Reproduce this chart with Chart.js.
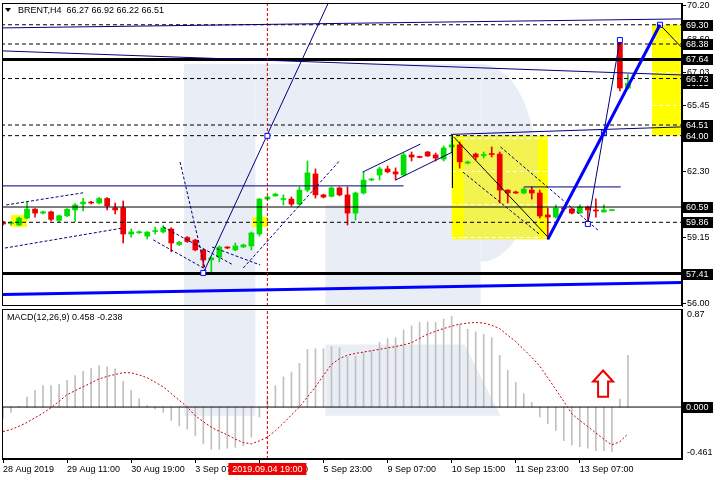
<!DOCTYPE html>
<html>
<head>
<meta charset="utf-8">
<script src="https://cdn.jsdelivr.net/npm/chart.js@4.4.1/dist/chart.umd.min.js"></script>
<style>
    html, body { margin: 0; padding: 0; background: #fff; }
    #wrap { position: relative; width: 720px; height: 480px; overflow: hidden; background: #fff; }
    #priceChart { position: absolute; left: 0; top: 0; }
    #macdChart { position: absolute; left: 0; top: 308px; }
</style>
</head>
<body>
<div id="wrap">
    <canvas id="priceChart" width="720" height="308"></canvas>
    <canvas id="macdChart" width="720" height="172"></canvas>
</div>
<script>
// ============================================
// BRENT H4 - candles + MACD(12,26,9)
// ============================================

// --- candles (bar index 0 = 28 Aug 2019 03:00) ---
const opens  = [59.88,59.80,59.73,60.06,60.49,60.30,60.36,59.95,60.17,60.45,60.74,60.82,60.78,61.00,60.55,60.55,59.30,59.36,59.20,59.42,59.40,59.54,58.80,59.13,59.01,58.54,58.06,58.20,58.68,58.54,58.68,58.73,59.30,60.97,61.12,60.95,60.97,60.73,61.40,62.17,61.17,61.10,61.50,61.17,60.30,61.26,61.88,62.12,62.41,62.27,62.12,63.08,63.00,63.22,63.08,62.88,63.46,63.56,62.69,63.12,63.05,63.14,63.12,61.40,61.31,61.26,61.40,61.26,60.21,60.11,60.54,60.50,60.30,60.59,60.45,60.35,60.42,68.43,66.27];
const highs  = [59.92,59.90,60.11,60.83,60.52,60.40,60.40,60.20,60.52,60.75,61.00,60.86,61.04,61.04,60.78,60.88,59.54,59.45,59.42,59.63,59.70,59.60,58.95,59.18,59.05,58.58,58.20,58.73,58.70,58.87,58.82,59.40,61.00,61.10,61.25,61.17,61.07,61.55,62.79,62.41,61.20,61.55,61.55,61.55,61.31,62.27,61.96,62.50,62.55,62.46,63.17,63.22,63.02,63.25,63.17,63.51,63.96,63.70,62.79,63.17,63.22,63.46,63.22,61.42,61.35,61.50,61.55,61.40,60.54,60.69,60.62,60.55,60.69,60.64,60.98,60.69,60.45,68.62,66.92];
const lows   = [59.72,59.72,59.70,60.02,60.11,60.26,59.93,59.88,60.13,59.90,60.40,60.74,60.74,60.45,60.26,58.87,59.15,59.33,59.06,59.30,59.35,58.45,58.75,58.90,58.50,57.68,57.49,57.97,58.60,58.50,58.65,58.54,59.20,60.93,61.10,60.69,60.64,60.64,61.31,61.02,61.02,61.07,61.12,59.73,59.97,61.21,61.85,61.88,62.22,61.88,62.07,62.79,62.94,63.00,62.79,62.79,63.17,62.45,62.65,62.84,62.93,62.98,60.78,60.78,61.24,61.22,60.97,60.06,59.05,60.06,60.40,60.26,60.30,59.73,60.11,60.35,60.40,66.14,66.22];
const closes = [59.78,59.82,60.06,60.49,60.30,60.36,60.00,60.17,60.48,60.69,60.83,60.78,61.00,60.64,60.45,59.30,59.40,59.40,59.39,59.46,59.59,58.87,58.90,58.94,58.54,58.06,58.16,58.68,58.63,58.73,58.78,59.35,60.97,61.07,61.21,60.98,60.73,61.40,62.22,61.17,61.07,61.50,61.17,60.30,61.26,61.88,61.93,62.41,62.27,62.17,63.08,62.98,62.96,63.03,62.93,63.41,63.56,62.75,62.74,62.98,63.10,63.10,61.40,61.26,61.26,61.45,61.26,60.16,60.11,60.54,60.50,60.30,60.59,60.45,60.40,60.45,60.42,66.28,66.51];

// --- MACD histogram and signal line ---
const macdHist = [-0.098,-0.048,0.005,0.089,0.149,0.19,0.19,0.2,0.238,0.28,0.318,0.342,0.369,0.357,0.339,0.229,0.149,0.074,0.012,-0.018,-0.048,-0.119,-0.167,-0.196,-0.256,-0.327,-0.375,-0.375,-0.366,-0.357,-0.345,-0.268,-0.089,0.08,0.19,0.268,0.31,0.387,0.512,0.518,0.518,0.536,0.527,0.446,0.452,0.482,0.497,0.577,0.607,0.616,0.685,0.72,0.75,0.756,0.75,0.78,0.804,0.735,0.69,0.667,0.646,0.616,0.458,0.327,0.22,0.119,0.042,-0.089,-0.149,-0.208,-0.298,-0.339,-0.351,-0.366,-0.387,-0.387,-0.396,0.071,0.458];
const macdSignal = [-0.217,-0.2,-0.17,-0.137,-0.095,-0.054,-0.005,0.05,0.11,0.145,0.179,0.215,0.25,0.272,0.289,0.305,0.304,0.285,0.259,0.22,0.179,0.12,0.06,0.0,-0.077,-0.13,-0.179,-0.215,-0.247,-0.285,-0.315,-0.327,-0.3,-0.268,-0.21,-0.143,-0.07,0.0,0.09,0.179,0.28,0.378,0.43,0.46,0.476,0.488,0.5,0.512,0.525,0.536,0.552,0.571,0.61,0.646,0.672,0.696,0.718,0.735,0.745,0.75,0.745,0.726,0.696,0.637,0.58,0.512,0.44,0.363,0.26,0.155,0.05,-0.06,-0.12,-0.173,-0.23,-0.286,-0.336,-0.307,-0.238];

// --- axes ---
const timeTickIdx  = [0, 8, 16, 24, 32, 40, 48, 56, 64, 72];
const timeTickText = ['28 Aug 2019', '29 Aug 11:00', '30 Aug 19:00', '3 Sep 07:00', '4 Sep 15:00', '5 Sep 23:00', '9 Sep 07:00', '10 Sep 15:00', '11 Sep 23:00', '13 Sep 07:00'];
const priceGrid    = [56.00, 57.58, 59.15, 60.73, 62.30, 63.88, 65.45, 67.03, 68.60, 70.20];
const priceTicks   = [56.00, 59.15, 62.30, 65.45, 67.03, 68.60, 70.20];  // the ones not hidden by object labels
const macdTickText = ['0.87', '-0.461'];
const macdTicks    = [0.87, -0.461];

// --- horizontal levels ---
const dashedLevels = [69.30, 68.38, 66.73, 64.51, 64.00, 59.86];
const thinLevels   = [60.59];
const thickLevels  = [67.64, 57.41];
const markedLevels = [69.30, 68.38, 67.64, 66.51, 66.73, 64.51, 64.00, 60.59, 59.86, 57.41];

// --- drawn objects: [bar index, price] ---
const navyLines = [
    [[0, 69.15], [84.75, 69.58]],
    [[0, 68.05], [84.75, 66.90]],
    [[0, 61.60], [50, 61.60]],
    [[65, 61.55], [77.1, 61.55]],
    [[25, 57.44], [40.6, 70.34]],
    [[55.9, 64.06], [84.75, 64.42]],
    [[44.9, 62.26], [52.1, 63.60]],
    [[49, 61.88], [56.1, 63.22]],
    [[73, 59.78], [77, 68.57]]
];
const blackLines = [
    [[82, 69.30], [84.75, 68.20]],
    [[56.25, 63.94], [68, 59.16]],
    [[56.1, 64.00], [56.1, 61.50]]
];
const blueThickLines = [
    [[68, 59.05], [75, 64.15], [82, 69.30]],
    [[0, 56.41], [84.75, 56.98]]
];
const navyDashed = [
    [[0.4, 60.69], [10, 61.27]],
    [[0.25, 58.63], [15, 59.59]],
    [[20, 59.64], [28.75, 57.82]],
    [[18.75, 59.02], [25, 57.68]],
    [[22.1, 62.74], [25.25, 57.58]],
    [[30, 57.68], [42.1, 62.84]],
    [[26.1, 58.68], [32.1, 57.82]],
    [[62.1, 63.46], [74.25, 59.49]],
    [[57.4, 62.26], [67.1, 59.25]]
];
const anchorPoints = [[75, 64.15], [82, 69.30], [73, 59.78], [77, 68.57], [33, 63.99], [25, 57.44]];
const zones = [
    { from: 56, to: 68, top: 64.00, bottom: 59.05, fill: '#FFFF00', grid: true },
    { from: 57.5, to: 66.75, top: 64.00, bottom: 59.05, fill: '#F2F250', grid: true },
    { from: 81, to: 85, top: 69.30, bottom: 64.00, fill: '#FFFF00', grid: true },
    { from: 1, to: 3, top: 60.21, bottom: 59.64, fill: '#FFFF00' },
    { from: 31.1, to: 33, top: 60.11, bottom: 59.63, fill: '#FFFF00' }
];
const cursorIdx = 33;
const cursorText = '2019.09.04 19:00';
const arrowMark = { x: 74.9, tip: 0.324, shoulder: 0.226, base: 0.092 };

const X_MIN = -0.125, X_MAX = 84.75;
const P_MIN = 55.86, P_MAX = 70.34;
const M_MIN = -0.461, M_MAX = 0.87;

const BULL = '#00E000';
const BEAR = '#EE0000';
const NAVY = '#000080';
const FONT = '"Liberation Sans", Arial, sans-serif';

Chart.defaults.font.family = FONT;
Chart.defaults.font.size = 9;
Chart.defaults.color = '#000';

function pts(list) {
    return list.map(p => ({ x: p[0], y: p[1] }));
}

function lineSet(points, color, width, dash, order) {
    return {
        type: 'line',
        data: pts(points),
        borderColor: color,
        borderWidth: width,
        borderDash: dash || [],
        pointRadius: 0,
        tension: 0,
        fill: false,
        order: order
    };
}

function levelSet(v, color, width, dash) {
    return lineSet([[X_MIN - 1, v], [X_MAX + 1, v]], color, width, dash, 2);
}

// no label overhang: keep the plot box where MT4 has it
function noPad(s) {
    s.paddingTop = 0;
    s.paddingBottom = 0;
    s.paddingLeft = 0;
    s.paddingRight = 0;
}

// light logo in the background, drawn through the scales
function drawLogo(ctx, x, y, parts) {
    ctx.fillStyle = '#E9EDF5';
    parts.forEach(p => {
        ctx.beginPath();
        if (p.ellipse) {
            const cx = x.getPixelForValue(p.ellipse[0]);
            const cy = y.getPixelForValue(p.ellipse[1]);
            const rx = x.getPixelForValue(p.ellipse[0] + p.ellipse[2]) - cx;
            const ry = y.getPixelForValue(p.ellipse[1] - p.ellipse[3]) - cy;
            ctx.ellipse(cx, cy, rx, ry, 0, -Math.PI / 2, Math.PI / 2);
        } else {
            p.poly.forEach((q, k) => {
                const px = x.getPixelForValue(q[0]), py = y.getPixelForValue(q[1]);
                if (k === 0) ctx.moveTo(px, py); else ctx.lineTo(px, py);
            });
        }
        ctx.closePath();
        ctx.fill();
    });
}

function markedLabel(ctx, text, x, y) {
    ctx.fillStyle = '#000';
    ctx.fillRect(x, Math.round(y) - 5, 31, 11);
    ctx.fillStyle = '#fff';
    ctx.textAlign = 'left';
    ctx.textBaseline = 'middle';
    ctx.fillText(text, x + 4, Math.round(y) + 0.5);
}

const priceDecor = {
    id: 'priceDecor',
    beforeDatasetsDraw(chart) {
        const { ctx, chartArea: a, scales: { x, y } } = chart;
        ctx.save();
        ctx.beginPath();
        ctx.rect(a.left, a.top, a.width, a.height);
        ctx.clip();

        drawLogo(ctx, x, y, [
            { poly: [[22.6, 67.43], [31.5, 67.43], [31.5, 50], [22.6, 50]] },
            { poly: [[31.5, 67.43], [59.6, 67.43], [59.6, 64.08], [31.5, 64.08]] },
            { poly: [[40.25, 60.69], [59.6, 60.69], [59.6, 50], [40.25, 50]] },
            { ellipse: [59.6, 62.70, 6.9, 4.73] }
        ]);

        zones.forEach(z => {
            const x0 = x.getPixelForValue(z.from), x1 = x.getPixelForValue(z.to);
            const y0 = y.getPixelForValue(z.top), y1 = y.getPixelForValue(z.bottom);
            ctx.fillStyle = z.fill;
            ctx.fillRect(x0, y0, x1 - x0, y1 - y0);
            if (!z.grid) return;
            // the light grid only shows over the filled zones
            ctx.strokeStyle = '#fff';
            ctx.lineWidth = 1;
            ctx.setLineDash([4, 3]);
            priceGrid.forEach(v => {
                if (v >= z.top || v <= z.bottom) return;
                const py = Math.round(y.getPixelForValue(v)) + 0.5;
                ctx.beginPath();
                ctx.moveTo(x0, py);
                ctx.lineTo(x1, py);
                ctx.stroke();
            });
            ctx.setLineDash([]);
        });
        ctx.restore();
    },
    afterDraw(chart) {
        const { ctx, chartArea: a, scales: { y } } = chart;
        ctx.save();
        ctx.strokeStyle = '#000';
        ctx.lineWidth = 1;
        ctx.strokeRect(a.left + 0.5, a.top + 0.5, a.width - 1, a.height - 1);

        ctx.font = '9px ' + FONT;
        markedLevels.forEach(v => markedLabel(ctx, v.toFixed(2), a.right, y.getPixelForValue(v)));

        // header
        ctx.fillStyle = '#000';
        ctx.beginPath();
        ctx.moveTo(5, 8); ctx.lineTo(11, 8); ctx.lineTo(8, 12); ctx.closePath();
        ctx.fill();
        ctx.textAlign = 'left';
        ctx.textBaseline = 'middle';
        ctx.fillText('BRENT,H4  ' + [opens[78], highs[78], lows[78], closes[78]].map(v => v.toFixed(2)).join(' '), 18, 11);
        ctx.restore();
    }
};

const priceDatasets = [];
dashedLevels.forEach(v => priceDatasets.push(levelSet(v, '#000', 1, [4, 3])));
thinLevels.forEach(v => priceDatasets.push(levelSet(v, '#000', 1)));
thickLevels.forEach(v => priceDatasets.push(levelSet(v, '#000', 3)));
navyLines.forEach(l => priceDatasets.push(lineSet(l, NAVY, 1, null, 1)));
blackLines.forEach(l => priceDatasets.push(lineSet(l, '#000', 1, null, 1)));
navyDashed.forEach(l => priceDatasets.push(lineSet(l, NAVY, 1, [3, 2], 1)));
blueThickLines.forEach(l => priceDatasets.push(lineSet(l, '#0000FF', 3, null, 0)));
priceDatasets.push(lineSet([[cursorIdx, P_MIN], [cursorIdx, P_MAX]], '#D00000', 1, [3, 2], 1));
priceDatasets.push({
    type: 'line',
    data: pts(anchorPoints),
    showLine: false,
    pointStyle: 'rect',
    pointRadius: 3.5,
    pointBorderWidth: 1,
    pointBorderColor: '#0000FF',
    pointBackgroundColor: '#fff',
    order: 0
});
priceDatasets.push({
    type: 'bar',
    data: opens.map((o, i) => ({ x: i, y: [o, closes[i]] })),
    backgroundColor: c => closes[c.dataIndex] >= opens[c.dataIndex] ? BULL : BEAR,
    barThickness: 5,
    minBarLength: 1,
    grouped: false,
    order: 5
});
priceDatasets.push({
    type: 'bar',
    data: lows.map((l, i) => ({ x: i, y: [l, highs[i]] })),
    backgroundColor: c => closes[c.dataIndex] >= opens[c.dataIndex] ? BULL : BEAR,
    barThickness: 1,
    grouped: false,
    order: 6
});

new Chart(document.getElementById('priceChart'), {
    type: 'bar',
    data: { datasets: priceDatasets },
    options: {
        responsive: false,
        animation: false,
        events: [],
        layout: { autoPadding: false, padding: { left: 2, top: 3, bottom: 2, right: 0 } },
        plugins: { legend: { display: false }, tooltip: { enabled: false } },
        scales: {
            x: { type: 'linear', min: X_MIN, max: X_MAX, offset: false, grid: { offset: false }, display: false },
            y: {
                position: 'right',
                min: P_MIN,
                max: P_MAX,
                afterFit: s => { s.width = 38; noPad(s); },
                afterBuildTicks: s => { s.ticks = priceTicks.map(v => ({ value: v })); },
                ticks: { callback: v => Number(v).toFixed(2), padding: 1, autoSkip: false },
                grid: { drawOnChartArea: false, drawTicks: true, tickLength: 4, color: '#000' },
                border: { color: '#000' }
            }
        }
    },
    plugins: [priceDecor]
});

// ============================================
// MACD panel
// ============================================
const macdDecor = {
    id: 'macdDecor',
    beforeDatasetsDraw(chart) {
        const { ctx, chartArea: a, scales: { x, y } } = chart;
        ctx.save();
        ctx.beginPath();
        ctx.rect(a.left, a.top, a.width, a.height);
        ctx.clip();
        drawLogo(ctx, x, y, [
            { poly: [[22.6, 2], [31.5, 2], [31.5, -0.078], [22.6, -0.078]] },
            { poly: [[40.25, 0.556], [57.6, 0.556], [62.1, -0.078], [40.25, -0.078]] }
        ]);
        ctx.restore();
    },
    afterDraw(chart) {
        const { ctx, chartArea: a, scales: { x, y } } = chart;
        ctx.save();
        ctx.strokeStyle = '#000';
        ctx.lineWidth = 1;
        ctx.strokeRect(a.left + 0.5, a.top + 0.5, a.width - 1, a.height - 1);

        ctx.font = '9px ' + FONT;
        ctx.fillStyle = '#000';
        ctx.textAlign = 'left';
        ctx.textBaseline = 'middle';
        ctx.fillText('MACD(12,26,9) ' + macdHist[78].toFixed(3) + ' ' + macdSignal[78].toFixed(3), 7, a.top + 9);
        ctx.fillText(macdTickText[0], a.right + 5, y.getPixelForValue(macdTicks[0]) + 6);
        ctx.fillText(macdTickText[1], a.right + 5, y.getPixelForValue(macdTicks[1]) - 6);
        markedLabel(ctx, (0).toFixed(3), a.right, y.getPixelForValue(0));

        // up arrow
        const cx = x.getPixelForValue(arrowMark.x);
        const yt = y.getPixelForValue(arrowMark.tip);
        const ys = y.getPixelForValue(arrowMark.shoulder);
        const yb = y.getPixelForValue(arrowMark.base);
        ctx.beginPath();
        ctx.moveTo(cx, yt);
        ctx.lineTo(cx + 10, ys);
        ctx.lineTo(cx + 5, ys);
        ctx.lineTo(cx + 5, yb);
        ctx.lineTo(cx - 5, yb);
        ctx.lineTo(cx - 5, ys);
        ctx.lineTo(cx - 10, ys);
        ctx.closePath();
        ctx.fillStyle = '#fff';
        ctx.fill();
        ctx.strokeStyle = '#EE0000';
        ctx.lineWidth = 2;
        ctx.stroke();

        // cursor time label
        const px = x.getPixelForValue(cursorIdx);
        ctx.fillStyle = '#EE0000';
        ctx.fillRect(px - 39, a.bottom + 4, 78, 12);
        ctx.fillStyle = '#fff';
        ctx.textAlign = 'center';
        ctx.fillText(cursorText, px, a.bottom + 10.5);
        ctx.restore();
    }
};

new Chart(document.getElementById('macdChart'), {
    type: 'bar',
    data: {
        datasets: [
            lineSet([[X_MIN - 1, 0], [X_MAX + 1, 0]], '#000', 1, null, 2),
            lineSet(macdSignal.map((v, i) => [i, v]), '#C80000', 1, [2, 2], 0),
            lineSet([[cursorIdx, M_MIN], [cursorIdx, M_MAX]], '#D00000', 1, [3, 2], 1),
            {
                type: 'bar',
                data: macdHist.map((v, i) => ({ x: i, y: v })),
                backgroundColor: '#C0C0C0',
                barThickness: 1,
                grouped: false,
                order: 5
            }
        ]
    },
    options: {
        responsive: false,
        animation: false,
        events: [],
        layout: { autoPadding: false, padding: { left: 2, top: 1, bottom: 0, right: 0 } },
        plugins: { legend: { display: false }, tooltip: { enabled: false } },
        scales: {
            x: {
                type: 'linear',
                min: X_MIN,
                max: X_MAX,
                offset: false,
                afterFit: s => { s.height = 21; noPad(s); },
                afterBuildTicks: s => { s.ticks = timeTickIdx.map(v => ({ value: v })); },
                ticks: {
                    callback: v => timeTickText[timeTickIdx.indexOf(v)],
                    align: 'start',
                    autoSkip: false,
                    maxRotation: 0,
                    padding: 1
                },
                grid: { offset: false, drawOnChartArea: false, drawTicks: true, tickLength: 4, color: '#000' },
                border: { color: '#000' }
            },
            y: {
                position: 'right',
                min: M_MIN,
                max: M_MAX,
                afterFit: s => { s.width = 38; noPad(s); },
                ticks: { display: false },
                grid: { display: false },
                border: { color: '#000' }
            }
        }
    },
    plugins: [macdDecor]
});
</script>
</body>
</html>
